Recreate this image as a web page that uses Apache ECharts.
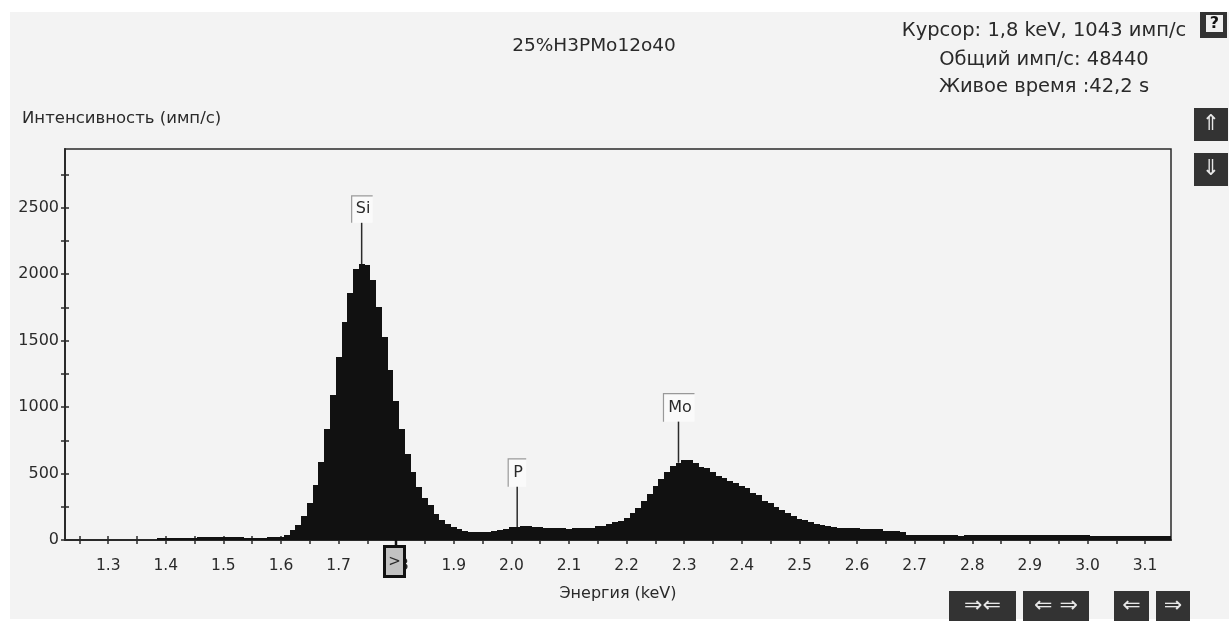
<!DOCTYPE html>
<html>
<head>
<meta charset="utf-8">
<style>html,body{margin:0;padding:0;background:#fff;overflow:hidden}#c{width:1229px;height:621px}</style>
<script src="https://cdn.jsdelivr.net/npm/echarts@6/dist/echarts.min.js"></script>
</head>
<body>
<div id="c"></div>
<script>
const energies = [
'1.23','1.24','1.25','1.26','1.27','1.28','1.29','1.30','1.31','1.32','1.33','1.34','1.35','1.36','1.37','1.38','1.39','1.40','1.41','1.42','1.43','1.44','1.45','1.46','1.47','1.48','1.49','1.50','1.51','1.52','1.53','1.54','1.55','1.56','1.57','1.58','1.59','1.60',
'1.61','1.62','1.63','1.64','1.65','1.66','1.67','1.68','1.69','1.70',
'1.71','1.72','1.73','1.74','1.75','1.76','1.77','1.78','1.79','1.80',
'1.81','1.82','1.83','1.84','1.85','1.86','1.87','1.88','1.89','1.90',
'1.91','1.92','1.93','1.94','1.95','1.96','1.97','1.98','1.99','2.00',
'2.01','2.02','2.03','2.04','2.05','2.06','2.07','2.08','2.09','2.10',
'2.11','2.12','2.13','2.14','2.15','2.16','2.17','2.18','2.19','2.20',
'2.21','2.22','2.23','2.24','2.25','2.26','2.27','2.28','2.29','2.30',
'2.31','2.32','2.33','2.34','2.35','2.36','2.37','2.38','2.39','2.40',
'2.41','2.42','2.43','2.44','2.45','2.46','2.47','2.48','2.49','2.50',
'2.51','2.52','2.53','2.54','2.55','2.56','2.57','2.58','2.59','2.60',
'2.61','2.62','2.63','2.64','2.65','2.66','2.67','2.68','2.69','2.70',
'2.71','2.72','2.73','2.74','2.75','2.76','2.77','2.78','2.79','2.80',
'2.81','2.82','2.83','2.84','2.85','2.86','2.87','2.88','2.89','2.90',
'2.91','2.92','2.93','2.94','2.95','2.96','2.97','2.98','2.99','3.00',
'3.01','3.02','3.03','3.04','3.05','3.06','3.07','3.08','3.09','3.10',
'3.11','3.12','3.13','3.14'];
const counts = [
3,3,3,3,3,3,3,3,3,3,3,3,3,3,3,3,15,15,15,15,15,15,15,25,25,25,25,25,25,25,25,12,12,12,12,25,25,25,
35,78,115,178,279,414,590,831,1089,1378,
1641,1860,2035,2073,2065,1952,1750,1529,1278,1043,
831,650,514,400,318,263,193,150,118,95,
80,65,58,58,58,58,68,75,82,95,
97,105,105,100,95,92,92,92,92,80,
92,92,92,92,103,108,118,133,145,168,
205,240,293,344,404,456,514,554,581,602,
600,580,551,539,514,479,464,441,426,406,
389,351,338,291,276,246,226,203,183,158,
148,133,123,113,105,100,92,90,90,88,
80,80,80,80,70,70,70,58,40,40,
40,40,40,40,40,40,40,30,40,40,
40,40,40,40,40,40,40,40,40,40,
40,40,40,40,40,40,40,40,40,40,
30,30,30,30,30,30,30,30,30,30,
30,30,30,30];
const yTickValues = [0,250,500,750,1000,1250,1500,1750,2000,2250,2500,2750];
const yLabelValues = [0,500,1000,1500,2000,2500];
const xLabelValues = ['1.30','1.40','1.50','1.60','1.70','1.80','1.90','2.00','2.10','2.20','2.30','2.40','2.50','2.60','2.70','2.80','2.90','3.00','3.10'];
const xTickValues = ['1.25','1.30','1.35','1.40','1.45','1.50','1.55','1.60','1.65','1.70','1.75','1.80','1.85','1.90','1.95','2.00','2.05','2.10','2.15','2.20','2.25','2.30','2.35','2.40','2.45','2.50','2.55','2.60','2.65','2.70','2.75','2.80','2.85','2.90','2.95','3.00','3.05','3.10'];
const peakNames = ['Si','P','Mo'];
const peakEnergies = ['1.74','2.01','2.29'];
const peakTops = [2385,400,890];
const titleText = '25%H3PMo12o40';
const statusLines = ['Курсор: 1,8 keV, 1043 имп/с','Общий имп/с: 48440','Живое время :42,2 s'];
const yName = 'Интенсивность (имп/с)';
const xName = 'Энергия (keV)';

const FONT = '"DejaVu Sans", sans-serif';
const INK = '#2a2a2a';
const flagShape = {Si:[-10,21,27],P:[-9,18,28],Mo:[-15,31,28]};

function btn(x,y,w,h,label,size){
  return {type:'group',z:50,children:[
    {type:'rect',shape:{x:x,y:y,width:w,height:h},style:{fill:'#333'},z:50},
    {type:'text',x:x+w/2,y:y+h/2,z:51,style:{text:label,fill:'#e8e8e8',font:(size||22)+'px "DejaVu Sans"',align:'center',verticalAlign:'middle'}}
  ]};
}
function txt(text,cx,cy,size,align){
  return {text:text,left:cx,top:cy,textAlign:align||'center',textVerticalAlign:'middle',
    textStyle:{fontFamily:FONT,fontSize:size,fontWeight:'normal',color:INK},padding:0};
}
const chart = echarts.init(document.getElementById('c'),null,{renderer:'canvas'});
chart.setOption({
  animation:false,
  backgroundColor:'#fff',
  title:[
    txt(titleText,594,46,18.5),
    txt(statusLines[0],1044,31,19.5),
    txt(statusLines[1],1044,60,19.5),
    txt(statusLines[2],1044,87,19.5),
    txt(yName,22,119,16.5,'left')
  ],
  grid:{left:65,top:149,width:1106,height:391,show:true,backgroundColor:'#f3f3f3',borderColor:INK,borderWidth:1.5,containLabel:false},
  xAxis:[
    {type:'category',data:energies,boundaryGap:true,position:'bottom',
     axisLine:{lineStyle:{color:INK,width:2}},
     axisTick:{show:true,alignWithLabel:true,length:4,lineStyle:{color:INK,width:1.5},
       interval:(i,v)=>xTickValues.includes(v)},
     axisLabel:{interval:(i,v)=>xLabelValues.includes(v),formatter:v=>parseFloat(v).toFixed(1),
       color:INK,fontFamily:FONT,fontSize:15.5,margin:18},
     name:xName,nameLocation:'middle',nameGap:46,
     nameTextStyle:{color:INK,fontFamily:FONT,fontSize:16}},
    {type:'category',data:energies,boundaryGap:true,position:'bottom',
     axisLine:{show:false},
     axisTick:{show:true,inside:true,alignWithLabel:true,length:4,lineStyle:{color:INK,width:1.5},
       interval:(i,v)=>xTickValues.includes(v)},
     axisLabel:{show:false}}
  ],
  yAxis:[
    {type:'value',min:0,max:2940,position:'left',splitLine:{show:false},
     axisLine:{show:true,lineStyle:{color:INK,width:2}},
     axisTick:{show:true,length:4,customValues:yTickValues,lineStyle:{color:INK,width:1.5}},
     axisLabel:{customValues:yLabelValues,formatter:v=>String(v),color:INK,fontFamily:FONT,fontSize:16,margin:6}},
    {type:'value',min:0,max:2940,position:'left',splitLine:{show:false},
     axisLine:{show:false},
     axisTick:{show:true,inside:true,length:4,customValues:yTickValues,lineStyle:{color:INK,width:1.5}},
     axisLabel:{show:false}}
  ],
  series:[
    {type:'custom',z:3,silent:true,coordinateSystem:'cartesian2d',
     data:energies.map((e,i)=>[e,counts[i]]),encode:{x:0,y:1},
     renderItem:function(p,api){
       const t=api.coord([api.value(0),api.value(1)]);
       const b=api.coord([api.value(0),0]);
       const w=api.size([1,0])[0];
       const l=Math.round(t[0]-w/2), r=Math.round(t[0]+w/2);
       const y=Math.round(t[1]), y0=Math.round(b[1]);
       return {type:'rect',shape:{x:l,y:y,width:r-l,height:y0-y},style:{fill:'#111'}};
     }},
    {type:'custom',z:5,silent:true,coordinateSystem:'cartesian2d',
     data:peakNames.map((n,i)=>[peakEnergies[i],peakTops[i],counts[energies.indexOf(peakEnergies[i])],n]),
     encode:{x:0,y:1},
     renderItem:function(p,api){
       const top=api.coord([api.value(0),api.value(1)]);
       const base=api.coord([api.value(0),api.value(2)]);
       const name=peakNames[p.dataIndex];
       const f=flagShape[name];
       const x=top[0],y=top[1];
       return {type:'group',children:[
         {type:'rect',shape:{x:x+f[0],y:y-f[2],width:f[1],height:f[2]},style:{fill:'#fafafa'}},
         {type:'polyline',shape:{points:[[x+f[0],y],[x+f[0],y-f[2]],[x+f[0]+f[1],y-f[2]]]},style:{fill:'none',stroke:'#999',lineWidth:1.2}},
         {type:'text',x:x+f[0]+f[1]/2+1,y:y-f[2]/2,style:{text:name,fill:INK,font:'16px '+FONT,align:'center',verticalAlign:'middle'}},
         {type:'line',shape:{x1:x,y1:y,x2:x,y2:base[1]},style:{stroke:INK,lineWidth:1.5}}
       ]};
     }}
  ],
  graphic:[
    {type:'rect',shape:{x:0,y:0,width:1229,height:12},style:{fill:'#fff'},z:-1,silent:true},
    {type:'rect',shape:{x:10,y:12,width:1219,height:607},style:{fill:'#f3f3f3'},z:-10,silent:true,zlevel:-1},
    {type:'line',shape:{x1:396,y1:540,x2:396,y2:546},style:{stroke:'#111',lineWidth:2.5},z:40},
    {type:'rect',shape:{x:384.5,y:546.5,width:20,height:30},style:{fill:'#c2c2c2',stroke:'#111',lineWidth:3},z:40},
    {type:'text',x:394.5,y:562,z:41,style:{text:'>',fill:INK,font:'15px '+FONT,align:'center',verticalAlign:'middle'}},
    btn(949,591,67,30,'⇒⇐'),
    btn(1023,591,66,30,'⇐ ⇒'),
    btn(1114,591,35,30,'⇐'),
    btn(1156,591,34,30,'⇒'),
    btn(1194,108,34,33,'⇑'),
    btn(1194,153,34,33,'⇓'),
    {type:'group',z:50,children:[
      {type:'rect',shape:{x:1200,y:12,width:27,height:26},style:{fill:'#333'},z:50},
      {type:'rect',shape:{x:1206,y:15,width:17,height:17},style:{fill:'#f0f0f0'},z:51},
      {type:'text',x:1214.5,y:24,z:52,style:{text:'?',fill:'#111',font:'bold 16px '+FONT,align:'center',verticalAlign:'middle'}}
    ]}
  ]
});
</script>
</body>
</html>
